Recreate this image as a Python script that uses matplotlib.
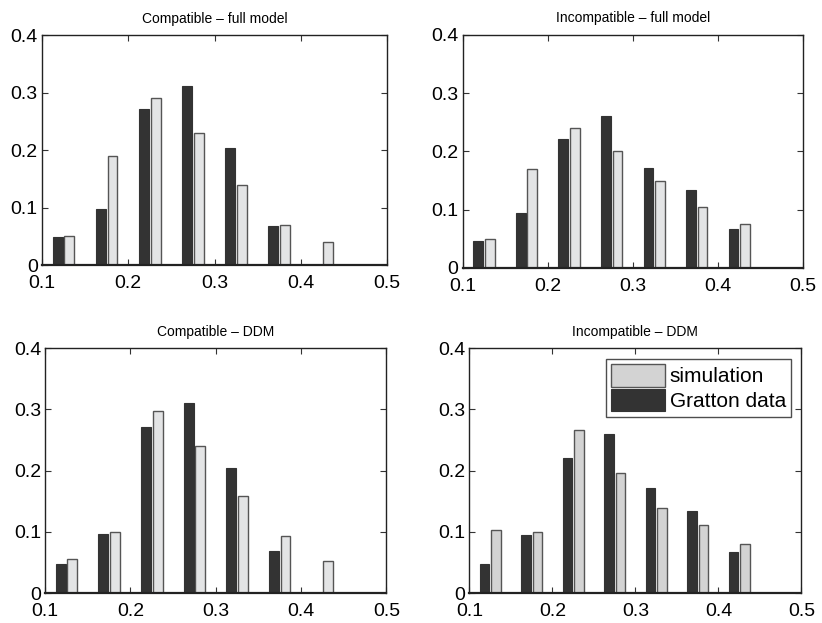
import numpy as np
import matplotlib.pyplot as plt

# bin centres (reaction time, s)
bins = [0.125, 0.175, 0.225, 0.275, 0.325, 0.375, 0.425]

# Gratton data
comp_data = [0.048, 0.097, 0.272, 0.311, 0.204, 0.068, 0.0]
incomp_data = [0.047, 0.095, 0.221, 0.260, 0.172, 0.134, 0.067]

# simulations
comp_full = [0.050, 0.190, 0.290, 0.230, 0.140, 0.070, 0.040]
incomp_full = [0.050, 0.170, 0.240, 0.200, 0.150, 0.105, 0.075]
comp_ddm = [0.056, 0.100, 0.298, 0.240, 0.158, 0.094, 0.052]
incomp_ddm = [0.103, 0.099, 0.266, 0.197, 0.139, 0.111, 0.081]

titles = ["Compatible \u2013 full model", "Incompatible \u2013 full model",
          "Compatible \u2013 DDM", "Incompatible \u2013 DDM"]

plt.rcParams['font.family'] = ['Liberation Sans', 'DejaVu Sans']

fig = plt.figure(figsize=(8.22, 6.23), dpi=100)
positions = [
    [0.051, 0.5746, 0.420, 0.369],
    [0.563, 0.5700, 0.414, 0.374],
    [0.055, 0.0480, 0.415, 0.393],
    [0.571, 0.0480, 0.404, 0.393],
]
panels = [(comp_data, comp_full, '#e3e4e5'),
          (incomp_data, incomp_full, '#e3e4e5'),
          (comp_data, comp_ddm, '#e3e4e5'),
          (incomp_data, incomp_ddm, '#d3d3d3')]

x = np.array(bins)
w = 0.0115
off = 0.0068
for i, (pos, (dat, sim, simc)) in enumerate(zip(positions, panels)):
    ax = fig.add_axes(pos)
    b1 = ax.bar(x + off, sim, width=w, color=simc, edgecolor='#555555',
                linewidth=1.0, label='simulation')
    b2 = ax.bar(x - off, dat, width=w, color='#333333', edgecolor='#333333',
                linewidth=0.8, label='Gratton data')
    ax.set_xlim(0.1, 0.5)
    ax.set_ylim(0, 0.4)
    ax.set_xticks([0.1, 0.2, 0.3, 0.4, 0.5])
    ax.set_xticklabels(['0.1', '0.2', '0.3', '0.4', '0.5'])
    ax.set_yticks([0, 0.1, 0.2, 0.3, 0.4])
    ax.set_yticklabels(['0', '0.1', '0.2', '0.3', '0.4'])
    ax.tick_params(direction='in', top=True, right=True, length=4,
                   width=0.8, labelsize=14, color='#333333')
    ax.tick_params(axis='x', pad=7)
    ax.tick_params(axis='y', pad=3)
    for s in ax.spines.values():
        s.set_linewidth(1.0)
        s.set_color('#222222')
    ax.spines['bottom'].set_linewidth(1.6)
    ax.set_title(titles[i], fontsize=10, pad=9)
    if i == 3:
        leg = ax.legend(handles=[b1, b2], loc='upper right', fontsize=15,
                        frameon=True, fancybox=False, edgecolor='#222222',
                        handlelength=2.6, handleheight=1.3,
                        borderpad=0.25, labelspacing=0.1,
                        handletextpad=0.2, borderaxespad=0.5)
        leg.get_frame().set_linewidth(1.0)

fig.savefig('out.png', dpi=100)
